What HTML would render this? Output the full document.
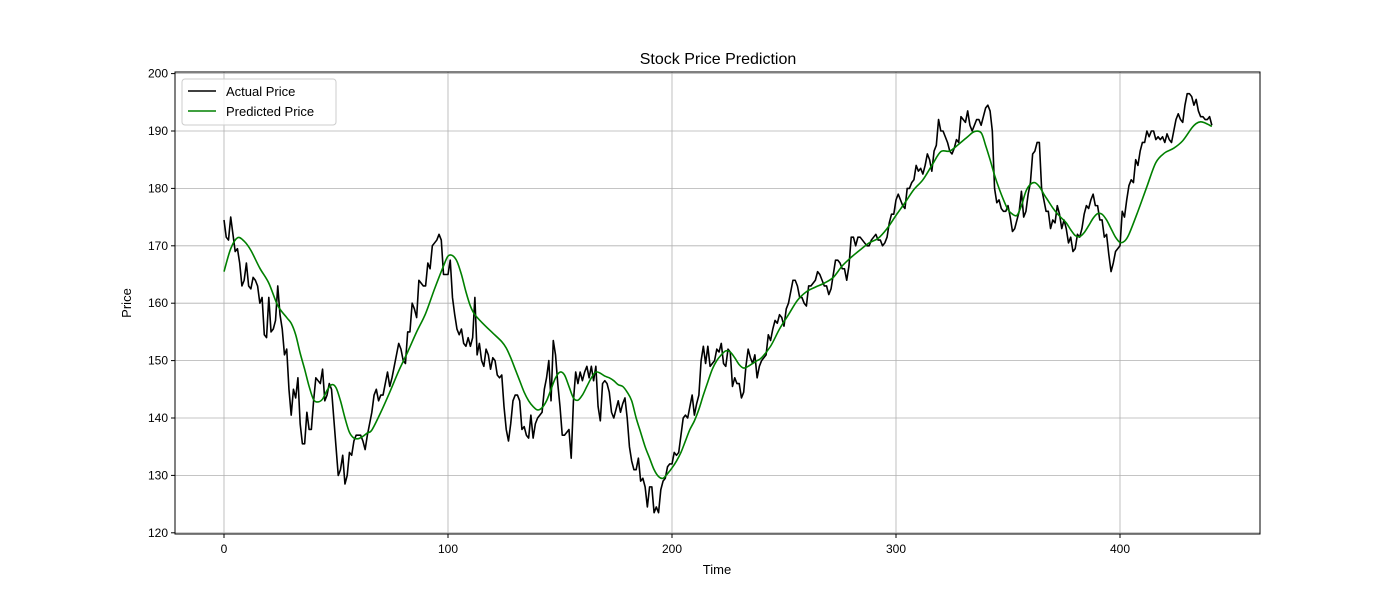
<!DOCTYPE html>
<html><head><meta charset="utf-8"><style>
body{margin:0;background:#fff;}
svg{display:block;font-family:"Liberation Sans","DejaVu Sans",sans-serif;}
</style></head><body>
<svg id="chart" width="1400" height="600"></svg>
<script>
const actual=[174.5,171.5,171,175,172,169,169.5,167,163,164,167,163,162.5,164.5,164,163,160,161,154.5,154,161,155,155.5,157,163,158,155.5,151,152,145,140.5,145,143.5,147,139,135.5,135.5,141,138,138,143,147,146.5,146,148.5,143,144,146,145,140,135,130,131,133.5,128.5,130,134,133.5,136,137,137,137,136,134.5,137,139,141,144,145,143,144,144,146,148,145.5,147,149,151,153,152,150,149.5,155,155,160,159,157.5,164,163.5,163,163,167,166,170,170.5,171,172,171,165,165,165,167.5,161,158,155.5,154.5,155.5,153,152.5,154,152.5,154,161,151,153,150,149,152,151,148.5,150.5,150,147.5,147,147.5,142,138,136,139,143,144,144,143,138,138.5,137,136.5,140.5,136.5,139,140,140.5,141,145,147,150,143,153.5,151,146,142,137,137,137.5,138,133,143,148,146,148,146.5,148,149,147,149,146.5,149,142,139.5,146,146.5,146,144.5,141,140,141.5,143,141,142.5,143.5,140,135,132.5,131,131,133,129,129.5,128,124.5,128,128,123.5,124.5,123.5,127.5,129,129.5,131.5,132,132,134,133.5,134,137,140,140.5,140,142,144,140.5,142.5,144,150,152.5,149.5,152.5,149,149.5,150,152,151.5,153,149.5,149,152,151.5,145.5,147,146,146,143.5,144.5,149,152,150.5,149.5,151,147,149,150,150.5,151,154.5,153.5,155.5,157,156.5,158,157.5,156,159,160,162,164,164,163,161,161,160,159.5,163,163,163.5,164,165.5,165,164,163,163,161.5,162.5,165,167.5,167.5,167,166,166,164,166.5,171.5,171.5,170,171.5,171.5,171,170.5,170,170,171,171.5,172,171,171,170,170.5,171.5,174,175.5,175.5,178,179,178,177,176.5,180,180,181,181.5,184,183,183.5,182.5,184,186,185,183,186.5,187.5,192,190,190,189,188,186.5,186,187,188.5,188,192.5,192,191.5,193.5,191,190,191,192,192,191,192.5,194,194.5,193.5,190,180,177.5,178,176.5,176,176,177,175,172.5,173,174.5,176,179.5,175,176,179,181,186,186.5,188,188,180,178,176,176,173,174.5,174,177,175.5,173,174.5,173,170.5,171.5,169,169.5,172,171.5,173,175.5,177,176.5,178,179,177,177,174.5,174.5,171.5,172,168.5,165.5,167,169,169.5,170,176,175,178,180.5,181.5,181,185,184,186.5,188,188,190,189,190,190,188.5,189,188.5,189,188,189.5,188.5,188,190,192,193,192,191.5,194.5,196.5,196.5,196,194.5,195.5,193.5,192.5,192.5,192,192,192.5,191];
const predTimes=[0,3,6,9,12,16,20,24,28,30,32,34,36,38,40,42,44,46,48,50,52,54,56,58,60,62,64,66,70,74,78,82,86,90,94,98,100,102,104,106,108,110,112,116,120,124,126,128,130,132,134,136,138,140,142,144,146,148,150,152,154,156,158,160,162,164,166,168,170,172,174,176,178,180,182,184,186,188,190,192,194,196,198,200,202,204,206,208,210,212,214,216,218,220,222,224,226,228,230,232,234,236,238,240,244,248,252,256,260,264,268,272,276,280,284,288,292,296,300,304,308,312,316,320,324,328,332,335,338,340,342,344,346,348,350,352,354,356,358,360,362,364,366,368,370,372,374,376,378,380,382,384,386,388,390,392,394,396,398,400,402,404,408,412,416,420,424,428,432,434,436,438,440,441];
const predicted=[165.5,169.5,171.4,170.8,169.2,166.1,163.5,159.6,157.5,156.5,154.5,151.3,148.5,145.5,143.2,142.8,143.3,144.8,145.8,145.3,143,140,137.5,136.5,136.4,136.8,137.4,137.9,141,144.5,148.2,151.5,155,158.2,162.5,166.5,168.2,168.3,167.3,165,162,159.5,158,156.3,154.8,153.3,152.2,150.5,148.5,146.5,144.5,143,142,141.4,141.8,143,145,147,148,147.5,145.5,143.5,143.1,144,145.5,147,148,147.8,147.3,147,146.5,145.8,145.5,144.5,143,140,137.5,135,133,131,129.8,129.5,130.3,131.3,132.5,134,136,138,139.5,141.5,144,146.3,148.5,150,151,151.7,151.5,150.5,149.3,148.7,149,149.5,150,150.5,152.5,155.5,158,160.5,162,162.8,163.5,164.5,166.5,168,169.3,170.5,171.3,173,175.3,177.5,179.8,181.5,184,186.4,186.5,187.7,189,189.9,189.7,187.5,185,182.3,180,178,176.3,175.5,175.3,177,179.5,180.7,181,180.3,179,177.8,176.6,175.6,174.8,174,172.8,171.8,171.6,172.3,173.5,174.8,175.6,175.5,174.5,173,171.5,170.6,170.8,172,176,180.3,184.5,186.2,187,188.3,190.5,191.3,191.6,191.4,191,190.8];
const xTicks=[0,100,200,300,400];
const yTicks=[120,130,140,150,160,170,180,190,200];

const svg=document.getElementById('chart');
const NS='http://www.w3.org/2000/svg';
const L=175,R=1260,T=72,B=534;
const sx=t=>224+t*2.24;
const sy=v=>73.6+(200-v)*5.74;
function mk(tag,attrs,parent){const e=document.createElementNS(NS,tag);for(const k in attrs)e.setAttribute(k,attrs[k]);(parent||svg).appendChild(e);return e;}

const title=mk('text',{x:718,y:64,'text-anchor':'middle','font-size':16,fill:'#000'});
title.textContent='Stock Price Prediction';



const grid=mk('g',{});


xTicks.forEach(t=>{
  const l=mk('line',{x1:sx(t),x2:sx(t),y1:T,y2:B,stroke:'#b0b0b0','stroke-width':0.8},grid);
  
  
});
yTicks.forEach(v=>{
  const l=mk('line',{x1:L,x2:R,y1:sy(v),y2:sy(v),stroke:'#b0b0b0','stroke-width':0.8},grid);
  
  
});

const clip=mk('clipPath',{id:'pc'});mk('rect',{x:L,y:T,width:R-L,height:B-T},clip);

const ap=mk('polyline',{points:actual.map((v,i)=>sx(i)+','+sy(v)).join(' '),fill:'none',stroke:'#000','stroke-width':1.6,'stroke-linejoin':'round','clip-path':'url(#pc)'});



const pts=predTimes.map((t,i)=>[sx(t),sy(predicted[i])]);
let d='M'+pts[0][0]+','+pts[0][1];
for(let i=0;i<pts.length-1;i++){
  const p0=pts[Math.max(0,i-1)],p1=pts[i],p2=pts[i+1],p3=pts[Math.min(pts.length-1,i+2)];
  const c1=[p1[0]+(p2[0]-p0[0])/6,p1[1]+(p2[1]-p0[1])/6];
  const c2=[p2[0]-(p3[0]-p1[0])/6,p2[1]-(p3[1]-p1[1])/6];
  d+=' C'+c1[0]+','+c1[1]+' '+c2[0]+','+c2[1]+' '+p2[0]+','+p2[1];
}
const pp=mk('path',{d:d,fill:'none',stroke:'#008000','stroke-width':1.6,'clip-path':'url(#pc)'});



const frame=mk('rect',{x:L,y:T,width:R-L,height:B-T,fill:'none',stroke:'#000','stroke-width':1});



xTicks.forEach(t=>{
  mk('line',{x1:sx(t),x2:sx(t),y1:B,y2:B+4,stroke:'#000'});
  const tx=mk('text',{x:sx(t),y:B+19,'text-anchor':'middle','font-size':12,fill:'#000'});
  tx.textContent=t;
  
  
});
yTicks.forEach(v=>{
  mk('line',{x1:L-4,x2:L,y1:sy(v),y2:sy(v),stroke:'#000'});
  const tx=mk('text',{x:L-7,y:sy(v)+4,'text-anchor':'end','font-size':12,fill:'#000'});
  tx.textContent=v;
  
  
});

const xl=mk('text',{x:717,y:574,'text-anchor':'middle','font-size':13,fill:'#000'});
xl.textContent='Time';


const yl=mk('text',{x:131,y:303,'text-anchor':'middle','font-size':13,fill:'#000',transform:'rotate(-90 131 303)'});
yl.textContent='Price';



const lg=mk('g',{});


mk('rect',{x:182,y:79,width:154,height:46,rx:3,fill:'#fff','fill-opacity':0.8,stroke:'#cccccc'},lg);
const e1=mk('g',{},lg);


mk('line',{x1:188,x2:216,y1:91,y2:91,stroke:'#000','stroke-width':1.6},e1);
const t1=mk('text',{x:226,y:96,'font-size':13,fill:'#000'},e1);t1.textContent='Actual Price';
const e2=mk('g',{},lg);


mk('line',{x1:188,x2:216,y1:111,y2:111,stroke:'#008000','stroke-width':1.6},e2);
const t2=mk('text',{x:226,y:116,'font-size':13,fill:'#000'},e2);t2.textContent='Predicted Price';
</script>
</body></html>
